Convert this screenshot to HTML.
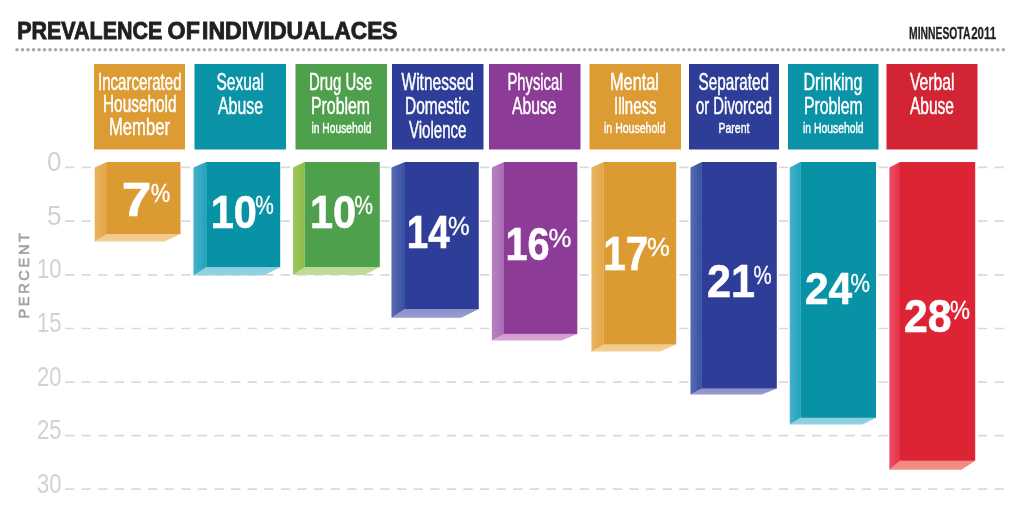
<!DOCTYPE html>
<html lang="en">
<head>
<meta charset="utf-8">
<title>Prevalence of Individual ACEs</title>
<style>
html,body{margin:0;padding:0;background:#fff;}
body{width:1024px;height:516px;overflow:hidden;font-family:"Liberation Sans",sans-serif;}
svg{display:block;filter:blur(0.4px);}
text{font-family:"Liberation Sans",sans-serif;}
.hb{font-size:23.6px;fill:#fff;stroke:#fff;stroke-width:0.5px;}
.hs{font-size:14.6px;fill:#fff;stroke:#fff;stroke-width:0.45px;}
.num{font-size:46px;font-weight:bold;fill:#fff;}
.pct{font-size:25px;fill:#fff;}
.ax{font-size:27.6px;fill:#d0d2d4;}
</style>
</head>
<body>
<svg width="1024" height="516" viewBox="0 0 1024 516">
<defs>
<linearGradient id="lf" x1="0" y1="0" x2="1" y2="0"><stop offset="0" stop-color="#fff" stop-opacity="0.16"/><stop offset="1" stop-color="#fff" stop-opacity="0"/></linearGradient>
<linearGradient id="bf" x1="0" y1="0" x2="0" y2="1"><stop offset="0" stop-color="#fff" stop-opacity="0"/><stop offset="1" stop-color="#fff" stop-opacity="0.1"/></linearGradient>
</defs>
<rect width="1024" height="516" fill="#ffffff"/>
<text y="39.0" font-size="24.6" font-weight="bold" fill="#231f20" stroke="#231f20" stroke-width="0.9" lengthAdjust="spacingAndGlyphs"><tspan x="17.2" textLength="145.2" lengthAdjust="spacingAndGlyphs">PREVALENCE</tspan> <tspan x="167.6" textLength="32.2" lengthAdjust="spacingAndGlyphs">OF</tspan> <tspan x="202" textLength="131.5" lengthAdjust="spacingAndGlyphs">INDIVIDUAL</tspan> <tspan x="334.4" textLength="63" lengthAdjust="spacingAndGlyphs">ACES</tspan></text>
<text y="39.4" font-size="16" font-weight="bold" fill="#231f20" stroke="#231f20" stroke-width="0.3"><tspan x="909" textLength="61" lengthAdjust="spacingAndGlyphs">MINNESOTA</tspan> <tspan x="971.2" textLength="25" lengthAdjust="spacingAndGlyphs">2011</tspan></text>
<line x1="17" y1="49.8" x2="1004" y2="49.8" stroke="#a9abae" stroke-width="3.6" stroke-linecap="round" stroke-dasharray="0.01 5.5"/>
<line x1="65" y1="167.4" x2="1004" y2="167.4" stroke="#d8dadc" stroke-width="1.7" stroke-dasharray="9.3 7.3"/>
<line x1="65" y1="221.2" x2="1004" y2="221.2" stroke="#d8dadc" stroke-width="1.7" stroke-dasharray="9.3 7.3"/>
<line x1="65" y1="274.8" x2="1004" y2="274.8" stroke="#d8dadc" stroke-width="1.7" stroke-dasharray="9.3 7.3"/>
<line x1="65" y1="328.5" x2="1004" y2="328.5" stroke="#d8dadc" stroke-width="1.7" stroke-dasharray="9.3 7.3"/>
<line x1="65" y1="382.1" x2="1004" y2="382.1" stroke="#d8dadc" stroke-width="1.7" stroke-dasharray="9.3 7.3"/>
<line x1="65" y1="435.7" x2="1004" y2="435.7" stroke="#d8dadc" stroke-width="1.7" stroke-dasharray="9.3 7.3"/>
<line x1="65" y1="489.2" x2="1004" y2="489.2" stroke="#d8dadc" stroke-width="1.7" stroke-dasharray="9.3 7.3"/>
<text class="ax" x="47.0" y="171.0" textLength="14.5" lengthAdjust="spacingAndGlyphs">0</text>
<text class="ax" x="47.0" y="224.79999999999998" textLength="14.5" lengthAdjust="spacingAndGlyphs">5</text>
<text class="ax" x="37.0" y="278.40000000000003" textLength="24.5" lengthAdjust="spacingAndGlyphs">10</text>
<text class="ax" x="37.0" y="332.1" textLength="24.5" lengthAdjust="spacingAndGlyphs">15</text>
<text class="ax" x="37.0" y="385.70000000000005" textLength="24.5" lengthAdjust="spacingAndGlyphs">20</text>
<text class="ax" x="37.0" y="439.3" textLength="24.5" lengthAdjust="spacingAndGlyphs">25</text>
<text class="ax" x="37.0" y="492.8" textLength="24.5" lengthAdjust="spacingAndGlyphs">30</text>
<text transform="translate(29,318.5) rotate(-90)" font-size="14.6" fill="#a0a2a4" stroke="#a0a2a4" stroke-width="0.6" textLength="85.5" lengthAdjust="spacing">PERCENT</text>
<rect x="94" y="64" width="91" height="85.5" fill="#dd9b34"/>
<text class="hb" x="98" y="89.5" textLength="83.5" lengthAdjust="spacingAndGlyphs">Incarcerated</text>
<text class="hb" x="103" y="111.5" textLength="73.5" lengthAdjust="spacingAndGlyphs">Household</text>
<text class="hb" x="109" y="135" textLength="61.0" lengthAdjust="spacingAndGlyphs">Member</text>
<rect x="194.5" y="64" width="91.5" height="85.5" fill="#0a93a6"/>
<text class="hb" x="216.5" y="89.5" textLength="47.5" lengthAdjust="spacingAndGlyphs">Sexual</text>
<text class="hb" x="218" y="113.5" textLength="45.0" lengthAdjust="spacingAndGlyphs">Abuse</text>
<rect x="295.5" y="64" width="91.5" height="85.5" fill="#4fa04c"/>
<text class="hb" x="309" y="89.5" textLength="63.0" lengthAdjust="spacingAndGlyphs">Drug Use</text>
<text class="hb" x="311" y="113.5" textLength="59.0" lengthAdjust="spacingAndGlyphs">Problem</text>
<text class="hs" x="311.5" y="133" textLength="60.0" lengthAdjust="spacingAndGlyphs">in Household</text>
<rect x="392" y="64" width="91.5" height="85.5" fill="#2e3e98"/>
<text class="hb" x="401.5" y="89.5" textLength="72.5" lengthAdjust="spacingAndGlyphs">Witnessed</text>
<text class="hb" x="405" y="113.5" textLength="64.5" lengthAdjust="spacingAndGlyphs">Domestic</text>
<text class="hb" x="409" y="138" textLength="57.5" lengthAdjust="spacingAndGlyphs">Violence</text>
<rect x="489" y="64" width="91.5" height="85.5" fill="#8c3b96"/>
<text class="hb" x="507.5" y="89.5" textLength="55.0" lengthAdjust="spacingAndGlyphs">Physical</text>
<text class="hb" x="512" y="113.5" textLength="44.5" lengthAdjust="spacingAndGlyphs">Abuse</text>
<rect x="589.5" y="64" width="91.5" height="85.5" fill="#dd9b34"/>
<text class="hb" x="610" y="89.5" textLength="49.0" lengthAdjust="spacingAndGlyphs">Mental</text>
<text class="hb" x="614" y="113.5" textLength="42.5" lengthAdjust="spacingAndGlyphs">Illness</text>
<text class="hs" x="604" y="133" textLength="61.5" lengthAdjust="spacingAndGlyphs">in Household</text>
<rect x="689" y="64" width="90" height="85.5" fill="#2e3e98"/>
<text class="hb" x="698.5" y="89.5" textLength="70.5" lengthAdjust="spacingAndGlyphs">Separated</text>
<text class="hb" x="696" y="113.5" textLength="76.0" lengthAdjust="spacingAndGlyphs">or Divorced</text>
<text class="hs" x="718.5" y="133" textLength="31.0" lengthAdjust="spacingAndGlyphs">Parent</text>
<rect x="788" y="64" width="90.5" height="85.5" fill="#0a93a6"/>
<text class="hb" x="803.5" y="89.5" textLength="59.0" lengthAdjust="spacingAndGlyphs">Drinking</text>
<text class="hb" x="804" y="113.5" textLength="58.5" lengthAdjust="spacingAndGlyphs">Problem</text>
<text class="hs" x="803" y="133" textLength="60.5" lengthAdjust="spacingAndGlyphs">in Household</text>
<rect x="886.5" y="64" width="91.0" height="85.5" fill="#d22433"/>
<text class="hb" x="910" y="89.5" textLength="44.5" lengthAdjust="spacingAndGlyphs">Verbal</text>
<text class="hb" x="910" y="113.5" textLength="44.0" lengthAdjust="spacingAndGlyphs">Abuse</text>
<polygon points="107,234 180.5,234 164.51,241.5 94.7,241.5" fill="#f3c98a"/>
<polygon points="94.7,167.5 107,162 107,234 94.7,241.5" fill="#e3a644"/>
<polygon points="94.7,167.5 107,162 107,234 94.7,241.5" fill="url(#lf)"/>
<polygon points="107,234 180.5,234 164.51,241.5 94.7,241.5" fill="url(#bf)"/>
<rect x="107" y="162" width="73.5" height="72.0" fill="#dc9a33"/>
<text x="121.80000000000001" y="215.9" font-size="47.2" font-weight="bold" fill="#fff" stroke="#fff" stroke-width="0.6" textLength="29.6" lengthAdjust="spacingAndGlyphs">7</text>
<text x="150.8" y="201.7" font-size="26" fill="#fff" stroke="#fff" stroke-width="0.3" textLength="19.5" lengthAdjust="spacingAndGlyphs">%</text>
<polygon points="206.2,267.2 280.2,267.2 263.69,275.5 193.5,275.5" fill="#88cfe0"/>
<polygon points="193.5,167.5 206.2,162 206.2,267.2 193.5,275.5" fill="#22a3bd"/>
<polygon points="193.5,167.5 206.2,162 206.2,267.2 193.5,275.5" fill="url(#lf)"/>
<polygon points="206.2,267.2 280.2,267.2 263.69,275.5 193.5,275.5" fill="url(#bf)"/>
<rect x="206.2" y="162" width="74.0" height="105.2" fill="#0892a5"/>
<text x="210.70000000000002" y="227.6" font-size="46.4" font-weight="bold" fill="#fff" stroke="#fff" stroke-width="0.6" textLength="46.2" lengthAdjust="spacingAndGlyphs">10</text>
<text x="255.3" y="214.0" font-size="26" fill="#fff" stroke="#fff" stroke-width="0.3" textLength="18.6" lengthAdjust="spacingAndGlyphs">%</text>
<polygon points="304.7,267 379.8,267 364.59000000000003,275 293,275" fill="#bdd892"/>
<polygon points="293,167.5 304.7,162 304.7,267 293,275" fill="#8dbd45"/>
<polygon points="293,167.5 304.7,162 304.7,267 293,275" fill="url(#lf)"/>
<polygon points="304.7,267 379.8,267 364.59000000000003,275 293,275" fill="url(#bf)"/>
<rect x="304.7" y="162" width="75.1" height="105.0" fill="#4fa04c"/>
<text x="309.9" y="227.6" font-size="46.4" font-weight="bold" fill="#fff" stroke="#fff" stroke-width="0.6" textLength="46.2" lengthAdjust="spacingAndGlyphs">10</text>
<text x="354.5" y="214.0" font-size="26" fill="#fff" stroke="#fff" stroke-width="0.3" textLength="18.5" lengthAdjust="spacingAndGlyphs">%</text>
<polygon points="405,309 478.8,309 461.25,317.7 391.5,317.7" fill="#8d91cc"/>
<polygon points="391.5,167.5 405,162 405,309 391.5,317.7" fill="#3850a3"/>
<polygon points="391.5,167.5 405,162 405,309 391.5,317.7" fill="url(#lf)"/>
<polygon points="405,309 478.8,309 461.25,317.7 391.5,317.7" fill="url(#bf)"/>
<rect x="405" y="162" width="73.8" height="147.0" fill="#2e3e98"/>
<text x="406.7" y="247.6" font-size="45.5" font-weight="bold" fill="#fff" stroke="#fff" stroke-width="0.6" textLength="42.9" lengthAdjust="spacingAndGlyphs">14</text>
<text x="448" y="234.6" font-size="26" fill="#fff" stroke="#fff" stroke-width="0.3" textLength="21.7" lengthAdjust="spacingAndGlyphs">%</text>
<polygon points="504,333.9 577.3,333.9 561.5699999999999,340.4 491.9,340.4" fill="#d29bd0"/>
<polygon points="491.9,167.5 504,162 504,333.9 491.9,340.4" fill="#a96bb5"/>
<polygon points="491.9,167.5 504,162 504,333.9 491.9,340.4" fill="url(#lf)"/>
<polygon points="504,333.9 577.3,333.9 561.5699999999999,340.4 491.9,340.4" fill="url(#bf)"/>
<rect x="504" y="162" width="73.3" height="171.9" fill="#8c3b96"/>
<text x="505.4" y="259.8" font-size="45.4" font-weight="bold" fill="#fff" stroke="#fff" stroke-width="0.6" textLength="44.2" lengthAdjust="spacingAndGlyphs">16</text>
<text x="548.5" y="246.9" font-size="26" fill="#fff" stroke="#fff" stroke-width="0.3" textLength="22.9" lengthAdjust="spacingAndGlyphs">%</text>
<polygon points="603.8,344.5 676.2,344.5 660.2100000000002,351.4 591.5,351.4" fill="#f3c98a"/>
<polygon points="591.5,167.5 603.8,162 603.8,344.5 591.5,351.4" fill="#e3a644"/>
<polygon points="591.5,167.5 603.8,162 603.8,344.5 591.5,351.4" fill="url(#lf)"/>
<polygon points="603.8,344.5 676.2,344.5 660.2100000000002,351.4 591.5,351.4" fill="url(#bf)"/>
<rect x="603.8" y="162" width="72.4" height="182.5" fill="#dc9a33"/>
<text x="603.1999999999999" y="270" font-size="47.2" font-weight="bold" fill="#fff" stroke="#fff" stroke-width="0.6" textLength="44.9" lengthAdjust="spacingAndGlyphs">17</text>
<text x="647" y="255.79999999999998" font-size="26" fill="#fff" stroke="#fff" stroke-width="0.3" textLength="22.9" lengthAdjust="spacingAndGlyphs">%</text>
<polygon points="701.9,388.6 776.8,388.6 761.98,394.6 690.5,394.6" fill="#8d91cc"/>
<polygon points="690.5,167.5 701.9,162 701.9,388.6 690.5,394.6" fill="#3850a3"/>
<polygon points="690.5,167.5 701.9,162 701.9,388.6 690.5,394.6" fill="url(#lf)"/>
<polygon points="701.9,388.6 776.8,388.6 761.98,394.6 690.5,394.6" fill="url(#bf)"/>
<rect x="701.9" y="162" width="74.9" height="226.6" fill="#2e3e98"/>
<text x="707.1" y="296.9" font-size="45.4" font-weight="bold" fill="#fff" stroke="#fff" stroke-width="0.6" textLength="48.0" lengthAdjust="spacingAndGlyphs">21</text>
<text x="753.4" y="284.0" font-size="26" fill="#fff" stroke="#fff" stroke-width="0.3" textLength="18.2" lengthAdjust="spacingAndGlyphs">%</text>
<polygon points="800.3,417.8 876,417.8 862.35,424.5 789.8,424.5" fill="#88cfe0"/>
<polygon points="789.8,167.5 800.3,162 800.3,417.8 789.8,424.5" fill="#22a3bd"/>
<polygon points="789.8,167.5 800.3,162 800.3,417.8 789.8,424.5" fill="url(#lf)"/>
<polygon points="800.3,417.8 876,417.8 862.35,424.5 789.8,424.5" fill="url(#bf)"/>
<rect x="800.3" y="162" width="75.7" height="255.8" fill="#0892a5"/>
<text x="804.9" y="304" font-size="44.4" font-weight="bold" fill="#fff" stroke="#fff" stroke-width="0.6" textLength="47.2" lengthAdjust="spacingAndGlyphs">24</text>
<text x="850.5" y="291.8" font-size="26" fill="#fff" stroke="#fff" stroke-width="0.3" textLength="19.5" lengthAdjust="spacingAndGlyphs">%</text>
<polygon points="900,460.8 975.2,460.8 961.4200000000001,469.8 889.4,469.8" fill="#f3867c"/>
<polygon points="889.4,167.5 900,162 900,460.8 889.4,469.8" fill="#e62f45"/>
<polygon points="889.4,167.5 900,162 900,460.8 889.4,469.8" fill="url(#lf)"/>
<polygon points="900,460.8 975.2,460.8 961.4200000000001,469.8 889.4,469.8" fill="url(#bf)"/>
<rect x="900" y="162" width="75.2" height="298.8" fill="#dc2434"/>
<text x="904.0" y="332.2" font-size="45.8" font-weight="bold" fill="#fff" stroke="#fff" stroke-width="0.6" textLength="47.6" lengthAdjust="spacingAndGlyphs">28</text>
<text x="950" y="319.0" font-size="26" fill="#fff" stroke="#fff" stroke-width="0.3" textLength="20.0" lengthAdjust="spacingAndGlyphs">%</text>
</svg>
</body>
</html>
